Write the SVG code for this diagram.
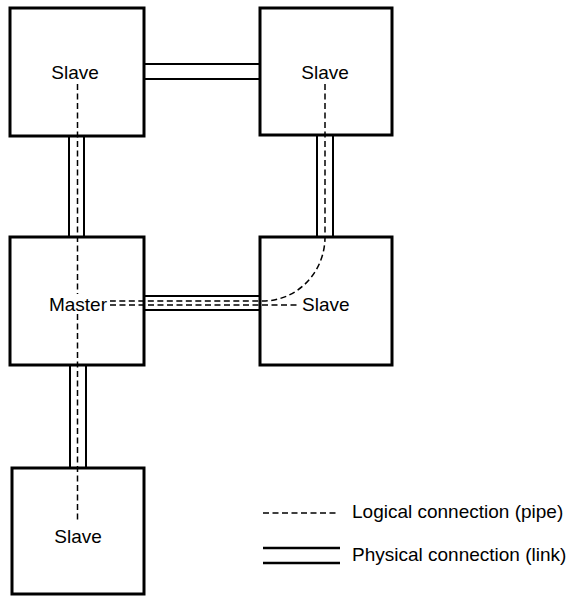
<svg xmlns="http://www.w3.org/2000/svg" width="566" height="596" viewBox="0 0 566 596">
<style>
.box{fill:#fff;stroke:#000;stroke-width:3}
.link{stroke:#000;stroke-width:2;fill:none}
.pipe{stroke:#000;stroke-width:1.5;fill:none;stroke-dasharray:6 3.5}
text{font-family:"Liberation Sans",Arial,sans-serif;font-size:19px;fill:#000}
</style>
<rect width="566" height="596" fill="#fff"/>
<g id="connectors">
<line class="link" x1="144" y1="64" x2="260" y2="64"/>
<line class="link" x1="144" y1="79" x2="260" y2="79"/>
<line class="link" x1="69" y1="136" x2="69" y2="237"/>
<line class="link" x1="84" y1="136" x2="84" y2="237"/>
<line class="link" x1="317" y1="135" x2="317" y2="237"/>
<line class="link" x1="333" y1="135" x2="333" y2="237"/>
<line class="link" x1="144" y1="296" x2="260" y2="296"/>
<line class="link" x1="144" y1="310" x2="260" y2="310"/>
<line class="link" x1="70" y1="365" x2="70" y2="468"/>
<line class="link" x1="86" y1="365" x2="86" y2="468"/>
</g>
<g id="node-slave-tl"><rect class="box" x="10" y="8" width="134" height="128"/><text x="75" y="79" text-anchor="middle">Slave</text></g>
<g id="node-slave-tr"><rect class="box" x="260" y="8" width="132" height="127"/><text x="325" y="79" text-anchor="middle">Slave</text></g>
<g id="node-master"><rect class="box" x="10" y="237" width="134" height="128"/><text x="107" y="311" text-anchor="end">Master</text></g>
<g id="node-slave-mr"><rect class="box" x="260" y="237" width="132" height="128"/><text x="302" y="311">Slave</text></g>
<g id="node-slave-bl"><rect class="box" x="12" y="468" width="132" height="126"/><text x="78" y="543" text-anchor="middle">Slave</text></g>
<g id="pipes">
<path class="pipe" d="M77.5,84 V294"/>
<path class="pipe" d="M77.5,314 V523"/>
<path class="pipe" d="M325,84 V237 A62,64 0 0 1 263,301 H110"/>
<path class="pipe" d="M110,305 H300"/>
</g>
<g id="legend">
<line class="pipe" x1="263" y1="513" x2="338" y2="513"/>
<text x="352" y="518">Logical connection (pipe)</text>
<line x1="263" y1="548" x2="340" y2="548" stroke="#000" stroke-width="2.5"/>
<line x1="263" y1="563" x2="340" y2="563" stroke="#000" stroke-width="2.5"/>
<text x="352" y="561">Physical connection (link)</text>
</g>
</svg>
